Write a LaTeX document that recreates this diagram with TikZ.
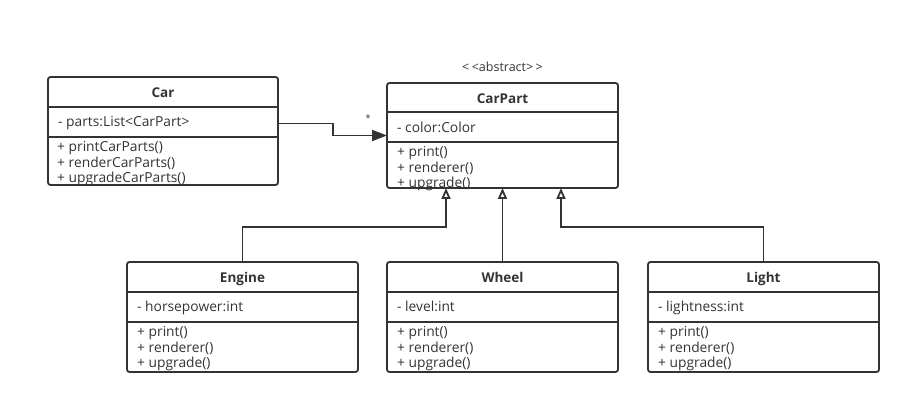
\documentclass[tikz,border=0pt]{standalone}
\usepackage{fontspec}
\setmainfont{Open Sans}
\usetikzlibrary{arrows.meta}
\definecolor{umlgray}{HTML}{333333}

\begin{document}
\begin{tikzpicture}[x=1pt,y=1pt,
        classbox/.style={draw=umlgray,line width=1.8pt,rounded corners=2.5pt,inner sep=0pt,outer sep=0pt},
        classname/.style={anchor=base,inner sep=0pt,text=umlgray,font=\fontsize{13.5}{15}\selectfont\bfseries},
        member/.style={anchor=base west,inner sep=0pt,text=umlgray,font=\fontsize{13.8}{15}\selectfont},
        ops/.style={anchor=north west,align=left,inner sep=0pt,text=umlgray,font=\fontsize{13.8}{15.5}\selectfont},
        divider/.style={draw=umlgray,line width=1.8pt},
        assoc/.style={draw=umlgray,line width=1.8pt,-{Triangle[length=15pt,width=11pt]}},
        inherit/.style={draw=umlgray,line width=1.8pt,-{Triangle[open,length=11pt,width=9pt,fill=white]}}]
        \useasboundingbox (0,0) rectangle (911,403);
        % Car
        \node[classbox,minimum width=230pt,minimum height=108pt] (car) at (163,272) {};
        \node[classname] (car-name) at (163,305.5) {Car};
        \draw[divider] (car.west |- 0,296) -- (car.east |- 0,296);
        \node[member] (car-attr) at (58,276) {- parts:List<CarPart>};
        \draw[divider] (car.west |- 0,266) -- (car.east |- 0,266);
        \node[ops] (car-ops) at (57,266) {\rule{0pt}{14.5pt}+ printCarParts()\\+ renderCarParts()\\+ upgradeCarParts()};
        % CarPart
        \node[classname,font=\fontsize{12.5}{14}\selectfont] (stereo) at (502.5,331) {<\kern2.5pt<abstract>\kern2.5pt>};
        \node[classbox,minimum width=231pt,minimum height=105pt] (carpart) at (502.5,267.5) {};
        \node[classname] (carpart-name) at (502.5,299.5) {CarPart};
        \draw[divider] (carpart.west |- 0,291) -- (carpart.east |- 0,291);
        \node[member] (carpart-attr) at (397,270) {- color:Color};
        \draw[divider] (carpart.west |- 0,261) -- (carpart.east |- 0,261);
        \node[ops] (carpart-ops) at (397,261) {\rule{0pt}{14.5pt}+ print()\\+ renderer()\\+ upgrade()};
        % Engine
        \node[classbox,minimum width=231pt,minimum height=110pt] (engine) at (242.5,86) {};
        \node[classname] (engine-name) at (242.5,120.5) {Engine};
        \draw[divider] (engine.west |- 0,111) -- (engine.east |- 0,111);
        \node[member] (engine-attr) at (137,91) {- horsepower:int};
        \draw[divider] (engine.west |- 0,81) -- (engine.east |- 0,81);
        \node[ops] (engine-ops) at (137,81) {\rule{0pt}{14.5pt}+ print()\\+ renderer()\\+ upgrade()};
        % Wheel
        \node[classbox,minimum width=231pt,minimum height=110pt] (wheel) at (502.5,86) {};
        \node[classname] (wheel-name) at (502.5,120.5) {Wheel};
        \draw[divider] (wheel.west |- 0,111) -- (wheel.east |- 0,111);
        \node[member] (wheel-attr) at (397,91) {- level:int};
        \draw[divider] (wheel.west |- 0,81) -- (wheel.east |- 0,81);
        \node[ops] (wheel-ops) at (397,81) {\rule{0pt}{14.5pt}+ print()\\+ renderer()\\+ upgrade()};
        % Light
        \node[classbox,minimum width=231pt,minimum height=110pt] (light) at (763.5,86) {};
        \node[classname] (light-name) at (763.5,120.5) {Light};
        \draw[divider] (light.west |- 0,111) -- (light.east |- 0,111);
        \node[member] (light-attr) at (658,91) {- lightness:int};
        \draw[divider] (light.west |- 0,81) -- (light.east |- 0,81);
        \node[ops] (light-ops) at (658,81) {\rule{0pt}{14.5pt}+ print()\\+ renderer()\\+ upgrade()};
        % association
        \coordinate (bend) at (333,0);
        \draw[assoc] (car.east |- car-attr) -| (bend |- carpart.west) -- (carpart.west);
        \node[text=umlgray,font=\small] (mult) at (368,285) {*};
        % generalization
        \coordinate (bus) at (0,176);
        \coordinate (in-left) at (446,215);
        \coordinate (in-right) at (561,215);
        \draw[inherit] (engine.north) |- (in-left |- bus) -- (in-left);
        \draw[inherit] (wheel.north) -- (carpart.south);
        \draw[inherit] (light.north) |- (in-right |- bus) -- (in-right);
\end{tikzpicture}
\end{document}
